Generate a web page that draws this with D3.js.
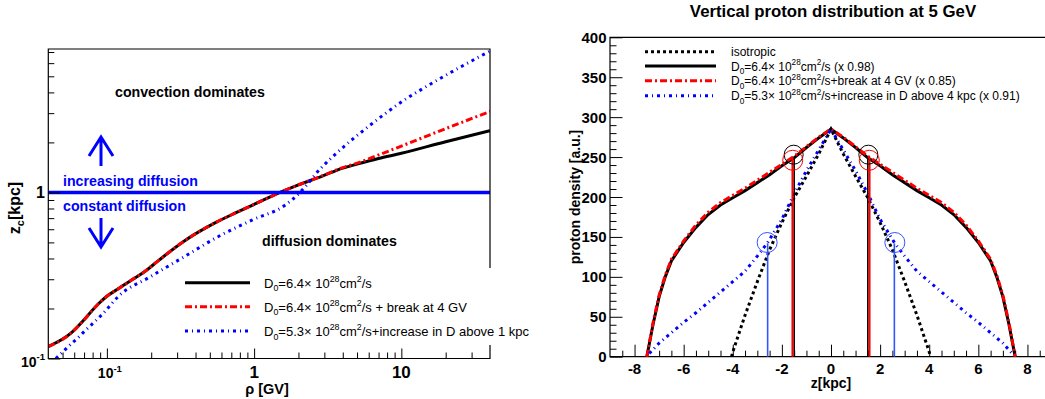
<!DOCTYPE html>
<html><head><meta charset="utf-8">
<script src="https://cdn.jsdelivr.net/npm/d3@7"></script>
<style>body{margin:0;background:#fff}svg{display:block}text{font-family:"Liberation Sans",Arial,Helvetica,sans-serif}</style>
</head><body><svg id="c" width="1045" height="399"></svg>
<script>
// ---------- LEFT PANEL DATA (rigidity [GV] vs z_c [kpc]) ----------
const leftBlackX = [0.04,0.057,0.07,0.0768,0.087,0.1,0.1165,0.15,0.18,0.225,0.33,0.55,0.76,1.04,1.5,2.0,2.85,4,5,7,10,20,40];
const leftBlackY = [0.118,0.142,0.171,0.188,0.212,0.237,0.259,0.300,0.333,0.39,0.505,0.66,0.757,0.861,1.0,1.11,1.245,1.40,1.48,1.60,1.72,2.02,2.35];
const leftRedX   = [0.04,0.057,0.07,0.0768,0.087,0.1,0.1165,0.15,0.18,0.225,0.33,0.55,0.76,1.04,1.5,2.0,2.85,4,5,7,10,20,40];
const leftRedY   = [0.118,0.142,0.171,0.188,0.212,0.237,0.259,0.300,0.333,0.39,0.505,0.66,0.757,0.861,1.0,1.11,1.25,1.41,1.50,1.68,1.90,2.42,3.07];
const leftBlueX  = [0.045,0.0488,0.0561,0.064,0.0728,0.0829,0.0944,0.12,0.2,0.34,0.58,1.0,1.6,2.05,2.8,3.7,6,10,18,40];
const leftBlueY  = [0.1,0.107,0.1205,0.134,0.15,0.167,0.187,0.237,0.313,0.413,0.546,0.69,0.83,1.0,1.38,1.75,2.5,3.5,4.8,7.1];
const leftXMajor = [0.1,1,10];
const leftXMajorLabels = [["10","-1"],["1",""],["10",""]];
const leftXMinor = [0.05,0.06,0.07,0.08,0.09,0.2,0.3,0.4,0.5,0.6,0.7,0.8,0.9,2,3,4,5,6,7,8,9,20,30];
const leftYMajor = [0.1,1];
const leftYMajorLabels = [["10","-1"],["1",""]];
const leftYMinor = [0.2,0.3,0.4,0.5,0.6,0.7,0.8,0.9,2,3,4,5,6,7];
const leftLegend = [
  {seg:[["D"],["0","sub"],["=6.4× 10"],["28","sup"],["cm"],["2","sup"],["/s"]], key:"black"},
  {seg:[["D"],["0","sub"],["=6.4× 10"],["28","sup"],["cm"],["2","sup"],["/s + break at 4 GV"]], key:"red"},
  {seg:[["D"],["0","sub"],["=5.3× 10"],["28","sup"],["cm"],["2","sup"],["/s+increase in D above 1 kpc"]], key:"blue"}
];

// ---------- RIGHT PANEL DATA (z [kpc] vs proton density) ----------
const zMain     = [-7.5,-7.25,-7,-6.75,-6.5,-6,-5.5,-5,-4.5,-4,-3.5,-3,-2.5,-2,-1.5,-1,-0.5,0,0.5,1,1.5,2,2.5,3,3.5,4,4.5,5,5.5,6,6.5,6.75,7,7.25,7.5];
const rightBlack= [0,40,75,100,120,143,162,178,190,199,208,218,228,239,249,262,274,285,274,262,249,239,228,218,208,199,190,178,162,143,120,100,75,40,0];
const rightRed  = [0,42,77,102,122,145,165,181,193,202,211,221,231,241,251,263,275,285,275,263,251,241,231,221,211,202,193,181,165,145,122,102,77,42,0];
const zIso      = [-4.05,-4,-3.5,-3,-2.5,-2,-1.5,-1,-0.5,0,0.5,1,1.5,2,2.5,3,3.5,4,4.05];
const rightIso  = [0,6,52,94,134,168,199,226,254,285,254,226,199,168,134,94,52,6,0];
const zBlue     = [-7.4,-7,-6.5,-6,-5.5,-5,-4.5,-4,-3.5,-3,-2.6,-2.5,-2,-1.5,-1,-0.5,0,0.5,1,1.5,2,2.5,2.6,3,3.5,4,4.5,5,5.5,6,6.5,7,7.35];
const rightBlue = [4,17,30,43,55,68,81,94,107,126,142,147,172,204,233,259,285,259,233,204,172,147,142,126,107,94,81,68,55,43,30,17,5];
const markerLines = [
  {z:-1.5, top:249, color:"#000", w:1.6}, {z:1.5, top:249, color:"#000", w:1.6},
  {z:-1.57, top:249, color:"#ff0000", w:2}, {z:1.57, top:249, color:"#ff0000", w:2},
  {z:-2.58, top:142, color:"#3355ff", w:1.6}, {z:2.58, top:142, color:"#3355ff", w:1.6}
];
const markerCircles = [
  {z:-1.52, v:253, r:9.5, color:"#000"}, {z:1.52, v:253, r:9.5, color:"#000"},
  {z:-1.56, v:246, r:10, color:"#ff0000"}, {z:1.56, v:246, r:10, color:"#ff0000"},
  {z:-2.6, v:143, r:10, color:"#3355ff"}, {z:2.6, v:143, r:10, color:"#3355ff"}
];
const rightXTicks = [-8,-6,-4,-2,0,2,4,6,8];
const rightYTicks = [0,50,100,150,200,250,300,350,400];
const rightLegend = [
  {seg:[["isotropic"]], key:"iso"},
  {seg:[["D"],["0","sub"],["=6.4× 10"],["28","sup"],["cm"],["2","sup"],["/s (x 0.98)"]], key:"black"},
  {seg:[["D"],["0","sub"],["=6.4× 10"],["28","sup"],["cm"],["2","sup"],["/s+break at 4 GV (x 0.85)"]], key:"red"},
  {seg:[["D"],["0","sub"],["=5.3× 10"],["28","sup"],["cm"],["2","sup"],["/s+increase in D above 4 kpc (x 0.91)"]], key:"blue"}
];

const styles = {
  black:{stroke:"#000", w:3, dash:null},
  red:{stroke:"#ff0000", w:3, dash:"7,3,2,3"},
  blue:{stroke:"#0000ff", w:3, dash:"3,4,1,4"},
  iso:{stroke:"#000", w:3, dash:"3,3"}
};

const svg = d3.select("#c");
svg.append("rect").attr("width",1045).attr("height",399).attr("fill","#fff");

function richText(g, x, y, seg, size, opts={}) {
  const t = g.append("text").attr("x",x).attr("y",y).attr("font-size",size)
    .attr("font-weight",opts.bold?"bold":"normal").attr("fill",opts.fill||"#000")
    .attr("text-anchor",opts.anchor||"start");
  let shift = 0;
  seg.forEach(([s,kind])=>{
    const sp = t.append("tspan").text(s);
    let target = 0;
    if (kind==="sup") { target = -0.45*size; sp.attr("font-size", size*0.68); }
    else if (kind==="sub") { target = 0.28*size; sp.attr("font-size", size*0.68); }
    sp.attr("dy", target - shift); shift = target;
  });
  return t;
}
function applyStyle(sel, st) {
  sel.attr("fill","none").attr("stroke",st.stroke).attr("stroke-width",st.w);
  if (st.dash) sel.attr("stroke-dasharray",st.dash);
}

// ================= LEFT PANEL =================
const xL = d3.scaleLog().domain([0.04,40]).range([48.3,490]);
const yL = d3.scaleLog().domain([0.1,7.3]).range([358.5,49]);
const gL = svg.append("g");
const lineL = d3.line().x(d=>xL(d[0])).y(d=>yL(d[1])).curve(d3.curveMonotoneX);
gL.append("defs").append("clipPath").attr("id","clipL").append("rect")
  .attr("x",48.3).attr("y",49).attr("width",490-48.3).attr("height",358.5-49);
const curvesL = gL.append("g").attr("clip-path","url(#clipL)");
[["black",leftBlackX,leftBlackY],["red",leftRedX,leftRedY],["blue",leftBlueX,leftBlueY]].forEach(([k,xs,ys])=>{
  applyStyle(curvesL.append("path").attr("d",lineL(xs.map((x,i)=>[x,ys[i]]))), styles[k]);
});
// constant/increasing diffusion boundary
gL.append("line").attr("x1",xL(0.04)).attr("x2",xL(40)).attr("y1",yL(1)).attr("y2",yL(1))
  .attr("stroke","#0000ff").attr("stroke-width",3.5);
// frame
gL.append("path").attr("d",`M${xL(0.04)},${yL(0.1)}V${yL(7.3)}H${xL(40)}V${yL(0.1)}Z`)
  .attr("fill","none").attr("stroke","#000").attr("stroke-width",1.2);
// axes ticks (inside) via d3 axes
const axLX = d3.axisBottom(xL).tickValues(leftXMinor).tickSize(-6).tickFormat("");
gL.append("g").attr("transform",`translate(0,${yL(0.1)})`).call(axLX).call(g=>g.select(".domain").remove());
const axLXM = d3.axisBottom(xL).tickValues(leftXMajor).tickSize(-10).tickFormat("");
gL.append("g").attr("transform",`translate(0,${yL(0.1)})`).call(axLXM).call(g=>g.select(".domain").remove());
const axLY = d3.axisLeft(yL).tickValues(leftYMinor).tickSize(-6).tickFormat("");
gL.append("g").attr("transform",`translate(${xL(0.04)},0)`).call(axLY).call(g=>g.select(".domain").remove());
const axLYM = d3.axisLeft(yL).tickValues(leftYMajor).tickSize(-12).tickFormat("");
gL.append("g").attr("transform",`translate(${xL(0.04)},0)`).call(axLYM).call(g=>g.select(".domain").remove());
gL.selectAll(".tick line").attr("stroke","#000").attr("stroke-width",1);
// tick labels
leftXMajor.forEach((v,i)=>{
  const [b,e]=leftXMajorLabels[i];
  const seg=[[b]]; if(e) seg.push([e,"sup"]);
  richText(gL, xL(v)+(e?3:0), 378, seg, e?14:17, {bold:true, anchor:"middle"});
});
leftYMajor.forEach((v,i)=>{
  const [b,e]=leftYMajorLabels[i];
  const seg=[[b]]; if(e) seg.push([e,"sup"]);
  richText(gL, 45, yL(v)+(e?8:6), seg, e?14:16, {bold:true, anchor:"end"});
});
// axis titles
richText(gL, 267, 394, [["ρ [GV]"]], 14.5, {bold:true, anchor:"middle"});
richText(gL.append("g").attr("transform","translate(20,208) rotate(-90)"), 0, 0, [["z"],["c","sub"],["[kpc]"]], 16, {bold:true, anchor:"middle"});
// annotations
richText(gL, 115, 97, [["convection dominates"]], 14.2, {bold:true});
richText(gL, 262, 246, [["diffusion dominates"]], 14.2, {bold:true});
richText(gL, 63, 186, [["increasing diffusion"]], 14.2, {bold:true, fill:"#0000ff"});
richText(gL, 63, 211, [["constant diffusion"]], 14.2, {bold:true, fill:"#0000ff"});
const arrowG = gL.append("g").attr("stroke","#0000ff").attr("stroke-width",3).attr("fill","none");
arrowG.append("path").attr("d","M101,166V138M89,156L101,137L113,156");
arrowG.append("path").attr("d","M101,218V246M89,228L101,247L113,228");
// legend
gL.append("rect").attr("x",175).attr("y",268).attr("width",368).attr("height",77).attr("fill","#fff");
const legRowsL=[282.7,306.7,331];
leftLegend.forEach((d,i)=>{
  const y=legRowsL[i];
  applyStyle(gL.append("line").attr("x1",185).attr("x2",250).attr("y1",y).attr("y2",y), styles[d.key]);
  richText(gL, 264, y+5, d.seg, 13);
});

// ================= RIGHT PANEL =================
const xR = d3.scaleLinear().domain([-9,9]).range([610,1052]);
const yR = d3.scaleLinear().domain([0,400]).range([356.7,37.3]);
const gR = svg.append("g");
const lineR = d3.line().x(d=>xR(d[0])).y(d=>yR(d[1]));
// minor/major ticks with d3 axes
const minorX = d3.range(-18,19).map(k=>k*0.5).filter(v=>v>-9&&v<9&&!rightXTicks.includes(v));
gR.append("g").attr("transform",`translate(0,${yR(0)})`).call(d3.axisBottom(xR).tickValues(minorX).tickSize(-6).tickFormat("")).call(g=>g.select(".domain").remove());
gR.append("g").attr("transform",`translate(0,${yR(0)})`).call(d3.axisBottom(xR).tickValues(rightXTicks).tickSize(-12).tickFormat("")).call(g=>g.select(".domain").remove());
const minorY = d3.range(0,401,10).filter(v=>v%50!==0);
gR.append("g").attr("transform",`translate(${xR(-9)},0)`).call(d3.axisLeft(yR).tickValues(minorY).tickSize(-6.5).tickFormat("")).call(g=>g.select(".domain").remove());
gR.append("g").attr("transform",`translate(${xR(-9)},0)`).call(d3.axisLeft(yR).tickValues(rightYTicks).tickSize(-12.5).tickFormat("")).call(g=>g.select(".domain").remove());
gR.selectAll(".tick line").attr("stroke","#000").attr("stroke-width",1);
gR.append("path").attr("d",`M${xR(9)},${yR(0)}H${xR(-9)}V${yR(400)}H${xR(9)}`)
  .attr("fill","none").attr("stroke","#000").attr("stroke-width",1.2);
rightXTicks.forEach(v=>richText(gR, xR(v), 374, [[String(v)]], 15, {bold:true, anchor:"middle"}));
rightYTicks.forEach(v=>richText(gR, 606.5, yR(v)+5.5, [[String(v)]], 15, {bold:true, anchor:"end"}));
richText(gR, 831, 388, [["z[kpc]"]], 14, {bold:true, anchor:"middle"});
richText(gR.append("g").attr("transform","translate(580,197) rotate(-90)"), 0, 0, [["proton density [a.u.]"]], 14, {bold:true, anchor:"middle"});
richText(gR, 833, 16.5, [["Vertical proton distribution at 5 GeV"]], 16.8, {bold:true, anchor:"middle"});
// curves
applyStyle(gR.append("path").attr("d",lineR(zIso.map((z,i)=>[z,rightIso[i]]))), styles.iso);
applyStyle(gR.append("path").attr("d",lineR(zMain.map((z,i)=>[z,rightBlack[i]]))), styles.black);
applyStyle(gR.append("path").attr("d",lineR(zMain.map((z,i)=>[z,rightRed[i]]))), styles.red);
applyStyle(gR.append("path").attr("d",lineR(zBlue.map((z,i)=>[z,rightBlue[i]]))), styles.blue);
// marker lines & circles
markerLines.forEach(m=>gR.append("line").attr("x1",xR(m.z)).attr("x2",xR(m.z)).attr("y1",yR(0)).attr("y2",yR(m.top))
  .attr("stroke",m.color).attr("stroke-width",m.w));
markerCircles.forEach(c=>gR.append("circle").attr("cx",xR(c.z)).attr("cy",yR(c.v)).attr("r",c.r)
  .attr("fill","none").attr("stroke",c.color).attr("stroke-width",1));
// legend
const legRowsR=[51.7,66,80.7,95.7];
rightLegend.forEach((d,i)=>{
  const y=legRowsR[i];
  applyStyle(gR.append("line").attr("x1",645).attr("x2",716).attr("y1",y).attr("y2",y), styles[d.key]);
  richText(gR, 731, y+4.5, d.seg, 12);
});
</script></body></html>
